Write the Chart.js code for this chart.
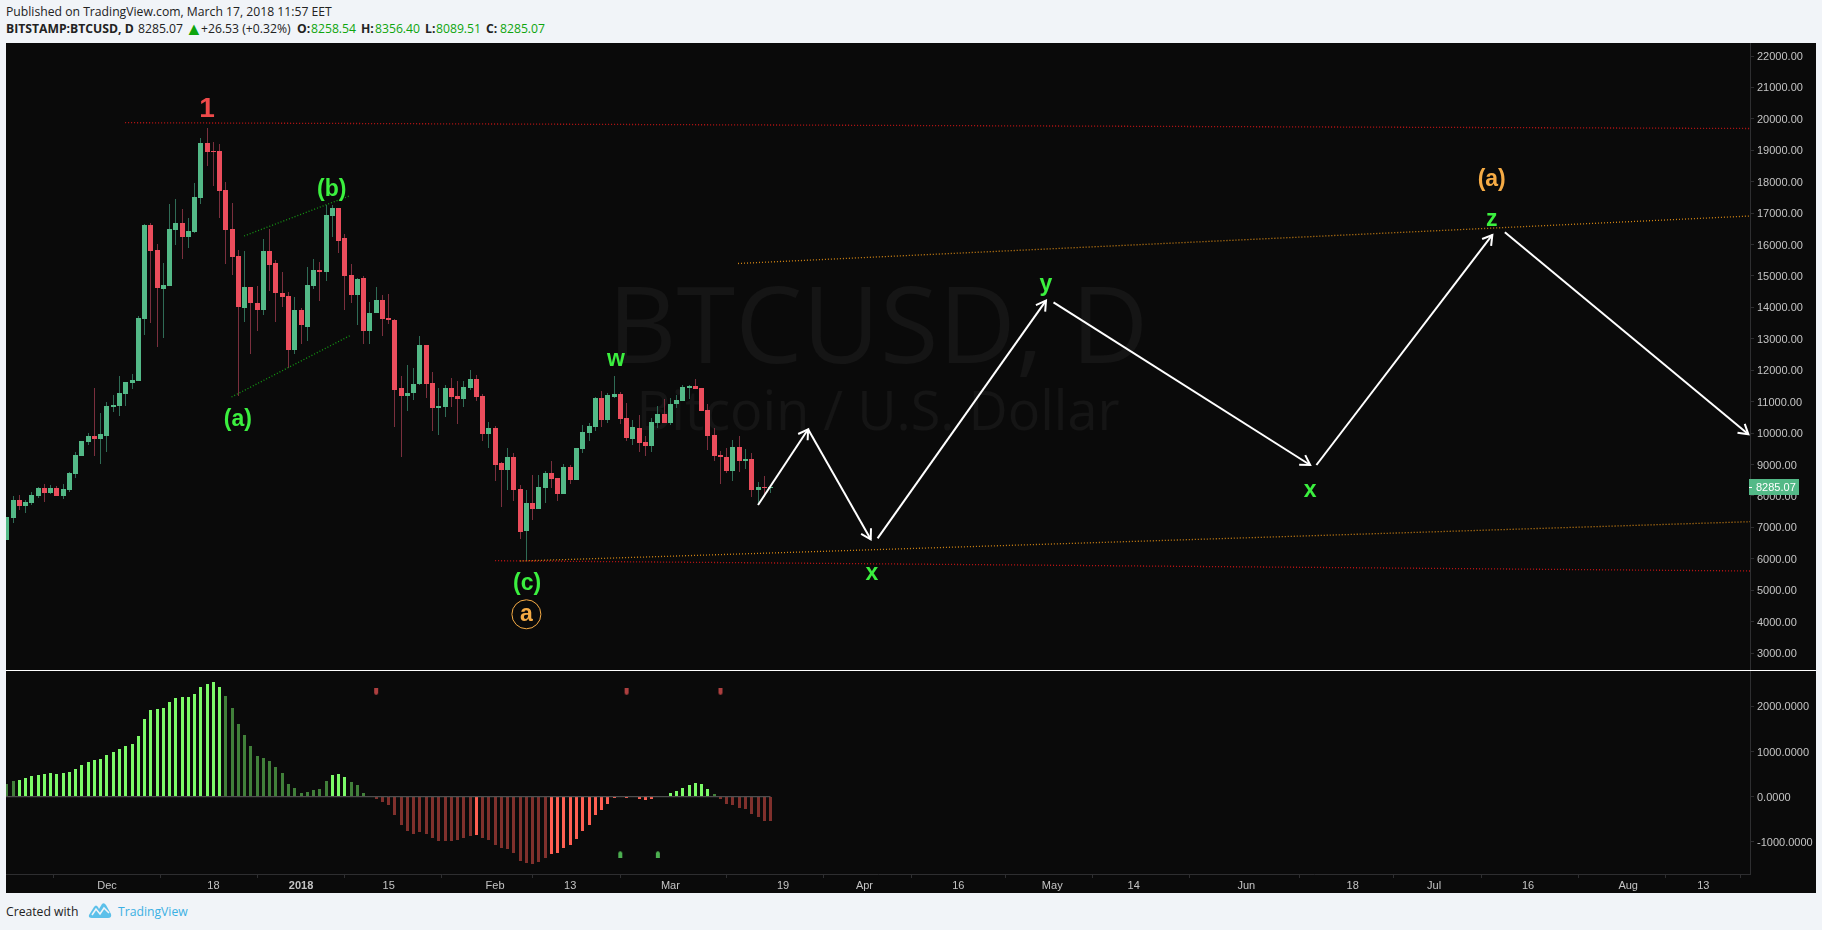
<!DOCTYPE html>
<html>
<head>
<meta charset="utf-8">
<title>BTCUSD</title>
<script src="https://cdn.jsdelivr.net/npm/chart.js@4/dist/chart.umd.js"></script>
<style>
    html, body { margin: 0; padding: 0; background: #f1f4f8; overflow: hidden; }
    body { width: 1822px; height: 930px; position: relative; font-family: "Open Sans", sans-serif; color: #222; }
    canvas { position: absolute; left: 6px; background: #0a0a0a; }
    #priceChart { top: 43px; }
    #macdChart { top: 671px; }
    #divider { position: absolute; left: 6px; top: 670px; width: 1809px; height: 1px; background: #fff; z-index: 2; }
    .txt { position: absolute; font-size: 12.2px; line-height: 16px; white-space: nowrap; }
    .b { font-weight: 700; }
    .g { color: #0ea50e; }
</style>
</head>
<body>
<div class="txt" style="left:6px;top:4px">Published on TradingView.com, March 17, 2018 11:57 EET</div>
<div class="txt b" style="left:6px;top:21px">BITSTAMP:BTCUSD, D</div>
<div class="txt" style="left:138px;top:21px">8285.07</div>
<div class="txt g" style="left:185px;top:20px;font-size:18px">▲</div>
<div class="txt" style="left:201px;top:21px">+26.53 (+0.32%)</div>
<div class="txt b" style="left:297px;top:21px">O:</div>
<div class="txt g" style="left:311px;top:21px">8258.54</div>
<div class="txt b" style="left:361px;top:21px">H:</div>
<div class="txt g" style="left:375px;top:21px">8356.40</div>
<div class="txt b" style="left:425px;top:21px">L:</div>
<div class="txt g" style="left:436px;top:21px">8089.51</div>
<div class="txt b" style="left:486px;top:21px">C:</div>
<div class="txt g" style="left:500px;top:21px">8285.07</div>

<canvas id="priceChart" width="1810" height="627"></canvas>
<div id="divider"></div>
<canvas id="macdChart" width="1810" height="222"></canvas>

<div class="txt" style="left:6px;top:904px">Created with</div>
<svg style="position:absolute;left:88px;top:902px" width="24" height="17" viewBox="0 0 24 17">
    <path d="M1 13 L6 5 Q8 2 10 5 L11 7 L14 2 Q16 0 18 3 L23 12 Q24 16 20 16 L4 16 Q0 16 1 13 Z" fill="#5cc0ea"/>
    <path d="M4 13 L8 7 L12 12 L16 6 L21 11" fill="none" stroke="#f1f4f8" stroke-width="1.6"/>
</svg>
<div class="txt" style="left:118px;top:904px;color:#3bb0e3">TradingView</div>

<script>
// day index: 0 is Dec 1 2017, the last candle is Mar 17 2018
const firstDay = -16;

const candleOpen = [6596,7297,7869,7679,7774,7997,8251,8092,8251,7997,8188,8697,9270,9715,9906,9811,
    9906,10829,10861,11243,11593,11657,13630,16622,15826,14585,14680,16463,16686,16240,16399,17481,19232,18977,18977,17736,
    16495,15635,13980,14649,14139,13917,15794,15412,14458,14362,12644,13917,13376,14680,15190,15126,16908,17163,16208,15031,
    14394,14935,13248,13821,14235,13662,13598,11434,11179,11275,11561,12803,11593,10797,10829,11434,11179,11084,11434,11720,
    11179,9970,10161,9047,8824,9238,8220,6883,7774,7583,8251,8729,8570,8060,8920,8506,9493,10002,10193,11116,
    10416,11148,11243,10479,9811,10161,9715,9588,10320,10607,10320,10925,11020,11434,11498,11434,10734,9938,9302,9238,
    8792,9556,9111,9174,8188,8283,8258.54];

const candleHigh = [7328,7986,8018,7869,8113,8283,8379,8347,8315,8379,8761,9397,9747,10002,11434,10638,
    10989,11211,11816,11625,11880,13726,16654,16686,16017,15412,17290,17449,17131,16845,17959,19391,19709,19264,19200,17990,
    17322,15826,15794,14649,14680,16176,16495,15508,15126,14489,14330,13980,15285,15540,15444,17258,17258,17163,16335,15381,
    14935,14999,14171,14649,14394,14426,13630,11816,12166,12071,13089,12803,11943,11434,11530,11752,11657,11657,12007,11848,
    11243,10352,10225,9079,9524,9365,8347,8188,8665,8665,8792,9111,8570,9015,8983,9524,10256,10320,11148,11339,
    11275,11816,11307,10957,10416,10575,9906,10479,10861,11084,11116,11211,11530,11530,11720,11434,10925,10161,9429,9524,
    9779,9906,9493,9365,8442,8633,8356.40];

const candleLow = [6596,7137,7551,7456,7710,7933,7806,8060,7997,7901,8124,8570,9270,9620,9270,9015,
    9397,10670,10543,10861,11402,11657,13121,13503,12739,13025,14680,15985,15540,15890,16367,17290,18500,17863,16845,15381,
    15031,11179,13535,12516,13248,13757,14521,13535,14012,12071,12516,12834,12930,14585,14203,14840,16240,15731,13917,14139,
    13439,12834,12834,13821,13089,13471,10193,9238,10702,11052,11530,11116,10065,9938,10511,10829,10288,10829,11370,11020,
    9747,9524,8474,7647,8188,7838,6628,5928,7233,7583,7774,8251,7838,8060,8379,8506,9365,9747,10065,10193,
    10320,11116,10288,9747,9620,9397,9270,9397,10161,10320,10256,10797,11020,11084,11402,10702,9461,9111,8379,8729,
    8474,8761,8856,7965,7710,7965,8089.51];

const candleClose = [7328,7869,7679,7806,8029,8251,8092,8251,7997,8220,8729,9302,9747,9906,9811,9970,
    10861,10893,11275,11625,11689,13662,16622,15794,14617,14712,16495,16686,16240,16431,17513,19232,18945,18945,17704,16463,
    15603,14012,14649,14139,13917,15794,15349,14458,14330,12644,13917,13439,14712,15190,15126,16940,17163,16113,14999,14394,
    14903,13248,13821,14235,13630,13598,11370,11179,11275,11561,12803,11561,10797,10861,11434,11148,11084,11466,11720,11148,
    9970,10161,8983,8824,9238,8188,6851,7774,7583,8283,8729,8538,8060,8920,8506,9524,10034,10225,11116,10416,
    11211,11243,10447,9843,10193,9684,9588,10352,10607,10320,10925,11052,11466,11498,11402,10702,9906,9270,9238,8792,
    9556,9111,9174,8188,8283,8251,8285.07];

const macdHist = [274,340,363,407,452,474,496,518,496,518,541,607,696,763,807,830,
    918,985,1052,1118,1163,1340,1718,1918,1940,1962,2096,2185,2207,2207,2274,2429,2496,2540,2429,2229,
    1962,1607,1363,1118,896,852,785,652,518,274,185,74,96,141,163,341,474,496,430,318,
    252,74,0,-59,-126,-193,-415,-615,-748,-815,-770,-815,-904,-970,-970,-970,-948,-904,-859,-837,
    -904,-948,-1059,-1126,-1148,-1237,-1415,-1459,-1481,-1437,-1348,-1259,-1237,-1126,-1059,-926,-748,-615,-415,-304,
    -170,-37,0,-37,0,-59,-81,-59,0,7,74,119,185,252,296,274,163,52,-59,-170,
    -193,-259,-281,-393,-459,-526,-548];

// histogram bars that are drawn in the other shade
const macdDarkGreenDays = [-16,-15,19,20,21,22,23,24,25,26,27,28,29,30,31,32,33,34,35,39,40,41,89,97];
const macdBrightRedDays = [59,71,72,73,74,75,76,77,78,79,80,81,82,83,84,85,86,87,88];

const sellMarkDays = [43, 83, 98];
const sellMarkValue = 2318;
const buyMarkDays = [82, 88];
const buyMarkValue = -1272;

const priceTicks = [22000,21000,20000,19000,18000,17000,16000,15000,14000,13000,12000,11000,10000,9000,8000,7000,6000,5000,4000,3000];
const macdTicks = [2000, 1000, 0, -1000];
const timeTickDays = [0, 17, 31, 45, 62, 74, 90, 108, 121, 136, 151, 164, 182, 199, 212, 227, 243, 255];
const timeTickLabels = ['Dec', '18', '2018', '15', 'Feb', '13', 'Mar', '19', 'Apr', '16', 'May', '14', 'Jun', '18', 'Jul', '16', 'Aug', '13'];

// drawn trend lines
const redTopDays = [2.9, 262.5];
const redTopPrices = [19878, 19693];
const redLowDays = [62, 262.5];
const redLowPrices = [5938, 5610];
const orangeTopDays = [100.8, 262.5];
const orangeTopPrices = [15397, 16908];
const orangeLowDays = [66, 262.5];
const orangeLowPrices = [5928, 7179];
const greenTopDays = [21.9, 38.7];
const greenTopPrices = [16272, 17545];
const greenLowDays = [19.9, 38.8];
const greenLowPrices = [11148, 13099];

// projected wave arrows
const arrowStartDays = [104, 112, 123.1, 151.2, 193.2, 223.3];
const arrowStartPrices = [7710, 10120, 6650, 14162, 8983, 16389];
const arrowEndDays = [112, 122, 150, 192.2, 221.3, 262.2];
const arrowEndPrices = [10120, 6619, 14213, 8983, 16304, 9960];

// wave labels
const labelTexts = ['1', '(b)', '(a)', 'w', '(c)', 'a', 'x', 'y', 'x', 'z', '(a)'];
const labelDays = [16, 35.9, 20.9, 81.3, 67.1, 67, 122.2, 150, 192.2, 221.2, 221.2];
const labelPrices = [20314, 17758, 10438, 12347, 5196, 4232, 5537, 14712, 8166, 16803, 18054];
const labelColors = ['#ef4a4a', '#3bf03f', '#3bf03f', '#3bf03f', '#3bf03f', '#f5ab45', '#3bf03f', '#3bf03f', '#3bf03f', '#3bf03f', '#f5ab45'];

const days = candleOpen.map((v, i) => firstDay + i);
const xMin = -16.13;
const xMax = 262.46;

const UP = '#53b987';
const DOWN = '#eb4d5c';
const UP_WICK = '#2f6b55';
const DOWN_WICK = '#7a2f3d';
const AXIS = '#2e2e30';
const LABEL = '#c4c4c4';
const AXIS_FONT = { family: '"Liberation Sans", Arial, sans-serif', size: 11 };

function pairs(xs, ys) {
    return xs.map((x, i) => ({ x: x, y: ys[i] }));
}

function trendLine(xs, ys, color) {
    return {
        type: 'line',
        data: pairs(xs, ys),
        borderColor: color,
        borderWidth: 1.3,
        borderDash: [1, 2],
        pointRadius: 0,
        order: 1
    };
}

// same look as the little flag marks of the indicator
function markImage(color, pointsUp) {
    const c = document.createElement('canvas');
    c.width = 6;
    c.height = 7;
    const ctx = c.getContext('2d');
    ctx.fillStyle = color;
    ctx.beginPath();
    if (pointsUp) {
        ctx.moveTo(3, 0); ctx.lineTo(5, 2); ctx.lineTo(5, 7); ctx.lineTo(1, 7); ctx.lineTo(1, 2);
    } else {
        ctx.moveTo(1, 0); ctx.lineTo(5, 0); ctx.lineTo(5, 5); ctx.lineTo(3, 7); ctx.lineTo(1, 5);
    }
    ctx.closePath();
    ctx.fill();
    return c;
}

// candles land on whole pixels in the original
const snapBars = {
    id: 'snapBars',
    afterDatasetsUpdate(chart) {
        chart.data.datasets.forEach((ds, i) => {
            if (ds.type !== 'bar') return;
            chart.getDatasetMeta(i).data.forEach(el => {
                el.x = Math.round(el.x - el.width / 2) + el.width / 2;
                el.y = Math.round(el.y);
                el.base = Math.round(el.base);
                if (el.base === el.y && ds.minOnePixel) el.base = el.y + 1;
            });
        });
    }
};

const watermark = {
    id: 'watermark',
    beforeDatasetsDraw(chart) {
        const ctx = chart.ctx;
        const cx = (chart.chartArea.left + chart.chartArea.right) / 2;
        ctx.save();
        ctx.fillStyle = '#151515';
        ctx.textAlign = 'center';
        ctx.textBaseline = 'alphabetic';
        ctx.font = '106.5px "Open Sans"';
        ctx.fillText('BTCUSD, D', cx, 320);
        ctx.font = '54px "Open Sans"';
        ctx.fillText('Bitcoin / U.S. Dollar', cx, 387);
        ctx.restore();
    }
};

const annotations = {
    id: 'annotations',
    afterDatasetsDraw(chart) {
        const ctx = chart.ctx;
        const x = chart.scales.x;
        const y = chart.scales.y;
        ctx.save();

        // arrow heads
        ctx.strokeStyle = '#ffffff';
        ctx.lineWidth = 2;
        arrowEndDays.forEach((d, i) => {
            const ex = x.getPixelForValue(d);
            const ey = y.getPixelForValue(arrowEndPrices[i]);
            const sx = x.getPixelForValue(arrowStartDays[i]);
            const sy = y.getPixelForValue(arrowStartPrices[i]);
            const a = Math.atan2(ey - sy, ex - sx);
            ctx.beginPath();
            ctx.moveTo(ex + 11 * Math.cos(a + 2.6), ey + 11 * Math.sin(a + 2.6));
            ctx.lineTo(ex, ey);
            ctx.lineTo(ex + 11 * Math.cos(a - 2.6), ey + 11 * Math.sin(a - 2.6));
            ctx.stroke();
        });

        // wave labels
        ctx.textAlign = 'center';
        ctx.textBaseline = 'middle';
        labelTexts.forEach((t, i) => {
            const px = x.getPixelForValue(labelDays[i]);
            const py = y.getPixelForValue(labelPrices[i]);
            ctx.fillStyle = labelColors[i];
            ctx.font = (t === '1' ? '700 28px' : '700 23px') + ' "Liberation Sans"';
            ctx.fillText(t, px, py);
            if (t === 'a') {
                ctx.strokeStyle = labelColors[i];
                ctx.lineWidth = 1;
                ctx.beginPath();
                ctx.arc(px, py, 14.5, 0, Math.PI * 2);
                ctx.stroke();
            }
        });

        // last price tag
        const last = candleClose[candleClose.length - 1];
        const tagY = Math.round(y.getPixelForValue(last));
        const left = chart.chartArea.right - 1;
        ctx.fillStyle = UP;
        ctx.fillRect(left, tagY - 8, 50, 16);
        ctx.fillStyle = '#ffffff';
        ctx.fillRect(left, tagY, 3, 1);
        ctx.textAlign = 'left';
        ctx.font = '11px "Liberation Sans"';
        ctx.fillText(last.toFixed(2), left + 7, tagY + 1);
        ctx.restore();
    }
};

function pinY(scale) {
    scale.width = 66;
    scale.paddingTop = 0;
    scale.paddingBottom = 0;
}

new Chart(document.getElementById('priceChart'), {
    type: 'bar',
    data: {
        datasets: [
            ...arrowStartDays.map((d, i) => ({
                type: 'line',
                data: [{ x: d, y: arrowStartPrices[i] }, { x: arrowEndDays[i], y: arrowEndPrices[i] }],
                borderColor: '#ffffff',
                borderWidth: 2,
                pointRadius: 0,
                order: 0
            })),
            trendLine(redTopDays, redTopPrices, '#c01515'),
            trendLine(redLowDays, redLowPrices, '#c01515'),
            trendLine(orangeTopDays, orangeTopPrices, '#d48614'),
            trendLine(orangeLowDays, orangeLowPrices, '#d48614'),
            trendLine(greenTopDays, greenTopPrices, '#149a14'),
            trendLine(greenLowDays, greenLowPrices, '#149a14'),
            {
                type: 'bar',
                data: days.map((d, i) => ({ x: d, y: [candleOpen[i], candleClose[i]] })),
                backgroundColor: days.map((d, i) => candleClose[i] >= candleOpen[i] ? UP : DOWN),
                grouped: false,
                maxBarThickness: 5,
                barPercentage: 1,
                categoryPercentage: 1,
                inflateAmount: 0,
                borderWidth: 0,
                minOnePixel: true,
                order: 2
            },
            {
                type: 'bar',
                data: days.map((d, i) => ({ x: d, y: [candleLow[i], candleHigh[i]] })),
                backgroundColor: days.map((d, i) => candleClose[i] >= candleOpen[i] ? UP_WICK : DOWN_WICK),
                grouped: false,
                maxBarThickness: 1,
                barPercentage: 1,
                categoryPercentage: 1,
                inflateAmount: 0,
                borderWidth: 0,
                order: 3
            }
        ]
    },
    options: {
        responsive: false,
        animation: false,
        layout: { padding: 0, autoPadding: false },
        plugins: { legend: { display: false }, tooltip: { enabled: false } },
        scales: {
            x: { type: 'linear', min: xMin, max: xMax, offset: false, display: false },
            y: {
                type: 'linear',
                position: 'right',
                min: 2459,
                max: 22414,
                afterBuildTicks: scale => { scale.ticks = priceTicks.map(v => ({ value: v })); },
                afterFit: pinY,
                grid: { drawOnChartArea: false, tickLength: 4, tickColor: AXIS },
                border: { color: AXIS },
                ticks: { color: LABEL, font: AXIS_FONT, padding: 3, labelOffset: 1, callback: v => v.toFixed(2) }
            }
        }
    },
    plugins: [snapBars, watermark, annotations]
});

new Chart(document.getElementById('macdChart'), {
    type: 'bar',
    data: {
        datasets: [
            {
                type: 'line',
                data: [{ x: xMin, y: 0 }, { x: days[days.length - 1], y: 0 }],
                borderColor: '#5f5f5f',
                borderWidth: 1,
                pointRadius: 0,
                order: 0
            },
            {
                type: 'line',
                data: sellMarkDays.map(d => ({ x: d, y: sellMarkValue })),
                showLine: false,
                pointStyle: markImage('#ad3f3f', false),
                pointRadius: 3,
                order: 0
            },
            {
                type: 'line',
                data: buyMarkDays.map(d => ({ x: d, y: buyMarkValue })),
                showLine: false,
                pointStyle: markImage('#4caf50', true),
                pointRadius: 3,
                order: 0
            },
            {
                type: 'bar',
                data: days.map((d, i) => ({ x: d, y: macdHist[i] })),
                backgroundColor: days.map((d, i) => {
                    if (macdHist[i] >= 0) return macdDarkGreenDays.includes(d) ? '#41803a' : '#7cfb68';
                    return macdBrightRedDays.includes(d) ? '#ff5f52' : '#80302c';
                }),
                grouped: false,
                maxBarThickness: 3,
                barPercentage: 1,
                categoryPercentage: 1,
                inflateAmount: 0,
                borderWidth: 0,
                order: 1
            }
        ]
    },
    options: {
        responsive: false,
        animation: false,
        layout: { padding: 0, autoPadding: false },
        plugins: { legend: { display: false }, tooltip: { enabled: false } },
        scales: {
            x: {
                type: 'linear',
                min: xMin,
                max: xMax,
                offset: false,
                afterBuildTicks: scale => { scale.ticks = timeTickDays.map(v => ({ value: v })); },
                afterFit: scale => {
                    scale.height = 19;
                    scale.paddingLeft = 0;
                    scale.paddingRight = 0;
                },
                grid: { drawOnChartArea: false, tickLength: 4, tickColor: AXIS },
                border: { color: AXIS },
                ticks: {
                    color: LABEL,
                    autoSkip: false,
                    maxRotation: 0,
                    padding: 1,
                    font: ctx => ctx.tick && ctx.tick.value === 31 ? { ...AXIS_FONT, weight: 'bold' } : AXIS_FONT,
                    callback: v => timeTickLabels[timeTickDays.indexOf(v)]
                }
            },
            y: {
                type: 'linear',
                position: 'right',
                min: -1709,
                max: 2780,
                afterBuildTicks: scale => { scale.ticks = macdTicks.map(v => ({ value: v })); },
                afterFit: pinY,
                grid: { drawOnChartArea: false, tickLength: 4, tickColor: AXIS },
                border: { color: AXIS },
                ticks: { color: LABEL, font: AXIS_FONT, padding: 3, labelOffset: 1, callback: v => v.toFixed(4) }
            }
        }
    },
    plugins: [snapBars]
});
</script>
</body>
</html>
